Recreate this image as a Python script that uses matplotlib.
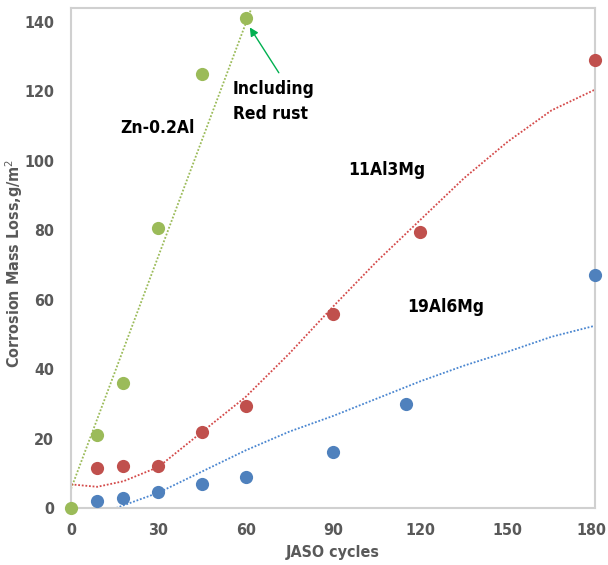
import numpy as np
import matplotlib
matplotlib.use("Agg")
import matplotlib.pyplot as plt
from matplotlib.transforms import ScaledTranslation

plt.rcParams['font.family'] = ['DejaVu Sans']
plt.rcParams['font.stretch'] = 'condensed'

# ------------------------------
# Data
# ------------------------------
zn_x = [0, 9, 18, 30, 45, 60]
zn_y = [0, 21, 36, 80.5, 125, 141]

mg3_x = [9, 18, 30, 45, 60, 90, 120, 180]
mg3_y = [11.5, 12, 12, 22, 29.5, 56, 79.5, 129]

mg6_x = [9, 18, 30, 45, 60, 90, 115, 180]
mg6_y = [2, 3, 4.5, 7, 9, 16, 30, 67]

# trend lines
zn_trend_x = [0, 62]
zn_trend_y = [5.5, 144]

mg3_trend_x = [0, 9, 18, 30, 45, 60, 75, 90, 105, 120, 135, 150, 165, 180]
mg3_trend_y = [6.8, 6.1, 7.7, 11.8, 21.9, 32, 44.5, 58, 71, 83, 95, 105.5, 114.5, 120.5]

mg6_trend_x = [15.5, 30, 45, 60, 75, 90, 105, 120, 135, 150, 165, 180]
mg6_trend_y = [0, 4.4, 10.5, 16.6, 22, 26.5, 31.5, 36.5, 41, 45, 49.3, 52.5]

x_ticks = [0, 30, 60, 90, 120, 150, 180]
y_ticks = [0, 20, 40, 60, 80, 100, 120, 140]

green = "#9BBB59"
red = "#C0504D"
blue = "#4F81BD"
grey = "#595959"

fig = plt.figure(figsize=(6.08, 5.65), dpi=100)
ax = fig.add_axes([0.1168, 0.1009, 0.862, 0.885])

# trend lines
ax.plot(zn_trend_x, zn_trend_y, color=green, lw=1.3, ls=(0, (1, 1)))
ax.plot(mg3_trend_x, mg3_trend_y, color="#D44A4A", lw=1.3, ls=(0, (1, 1)))
ax.plot(mg6_trend_x, mg6_trend_y, color="#4A86D0", lw=1.3, ls=(0, (1, 1)))

# points
ax.plot(mg6_x, mg6_y, "o", color=blue, ms=9.5, mec="none", clip_on=False, zorder=3)
ax.plot(mg3_x, mg3_y, "o", color=red, ms=9.5, mec="none", clip_on=False, zorder=3)
ax.plot(zn_x, zn_y, "o", color=green, ms=9.5, mec="none", clip_on=False, zorder=4)

ax.set_xlim(0, 180)
ax.set_ylim(0, 144)
ax.set_xticks(x_ticks)
ax.set_yticks(y_ticks)
ax.tick_params(length=0, labelsize=11.5, labelcolor=grey)
ax.tick_params(axis="x", pad=11)
ax.tick_params(axis="y", pad=12)
for lab in ax.get_xticklabels() + ax.get_yticklabels():
    lab.set_fontweight("bold")

# keep the last x label inside the canvas
last = ax.get_xticklabels()[-1]
last.set_transform(last.get_transform() + ScaledTranslation(-3 / 72, 0, fig.dpi_scale_trans))

for s in ax.spines.values():
    s.set_color("#d0d0d0")
    s.set_linewidth(1.5)

ax.set_xlabel("JASO cycles", fontsize=11.5, color=grey, fontweight="bold", labelpad=5)
ax.set_ylabel("Corrosion Mass Loss,g/m$^2$", fontsize=11.5, color=grey, fontweight="bold")
ax.yaxis.set_label_coords(-0.088, 0.49)

# annotations
ax.text(16.8, 109.4, "Zn-0.2Al", fontsize=12.5, fontweight="bold", va="center")
ax.text(95.1, 97.2, "11Al3Mg", fontsize=12.5, fontweight="bold", va="center")
ax.text(115.3, 58, "19Al6Mg", fontsize=12.5, fontweight="bold", va="center")
ax.annotate("Including\nRed rust", xy=(61.4, 138.4), xytext=(55.6, 117),
            fontsize=12.5, fontweight="bold", va="center", linespacing=1.5,
            arrowprops=dict(arrowstyle="-|>", color="#00B050", lw=1,
                            shrinkA=4, shrinkB=0, relpos=(0.62, 1.0)))

plt.savefig("out.png", dpi=100)
